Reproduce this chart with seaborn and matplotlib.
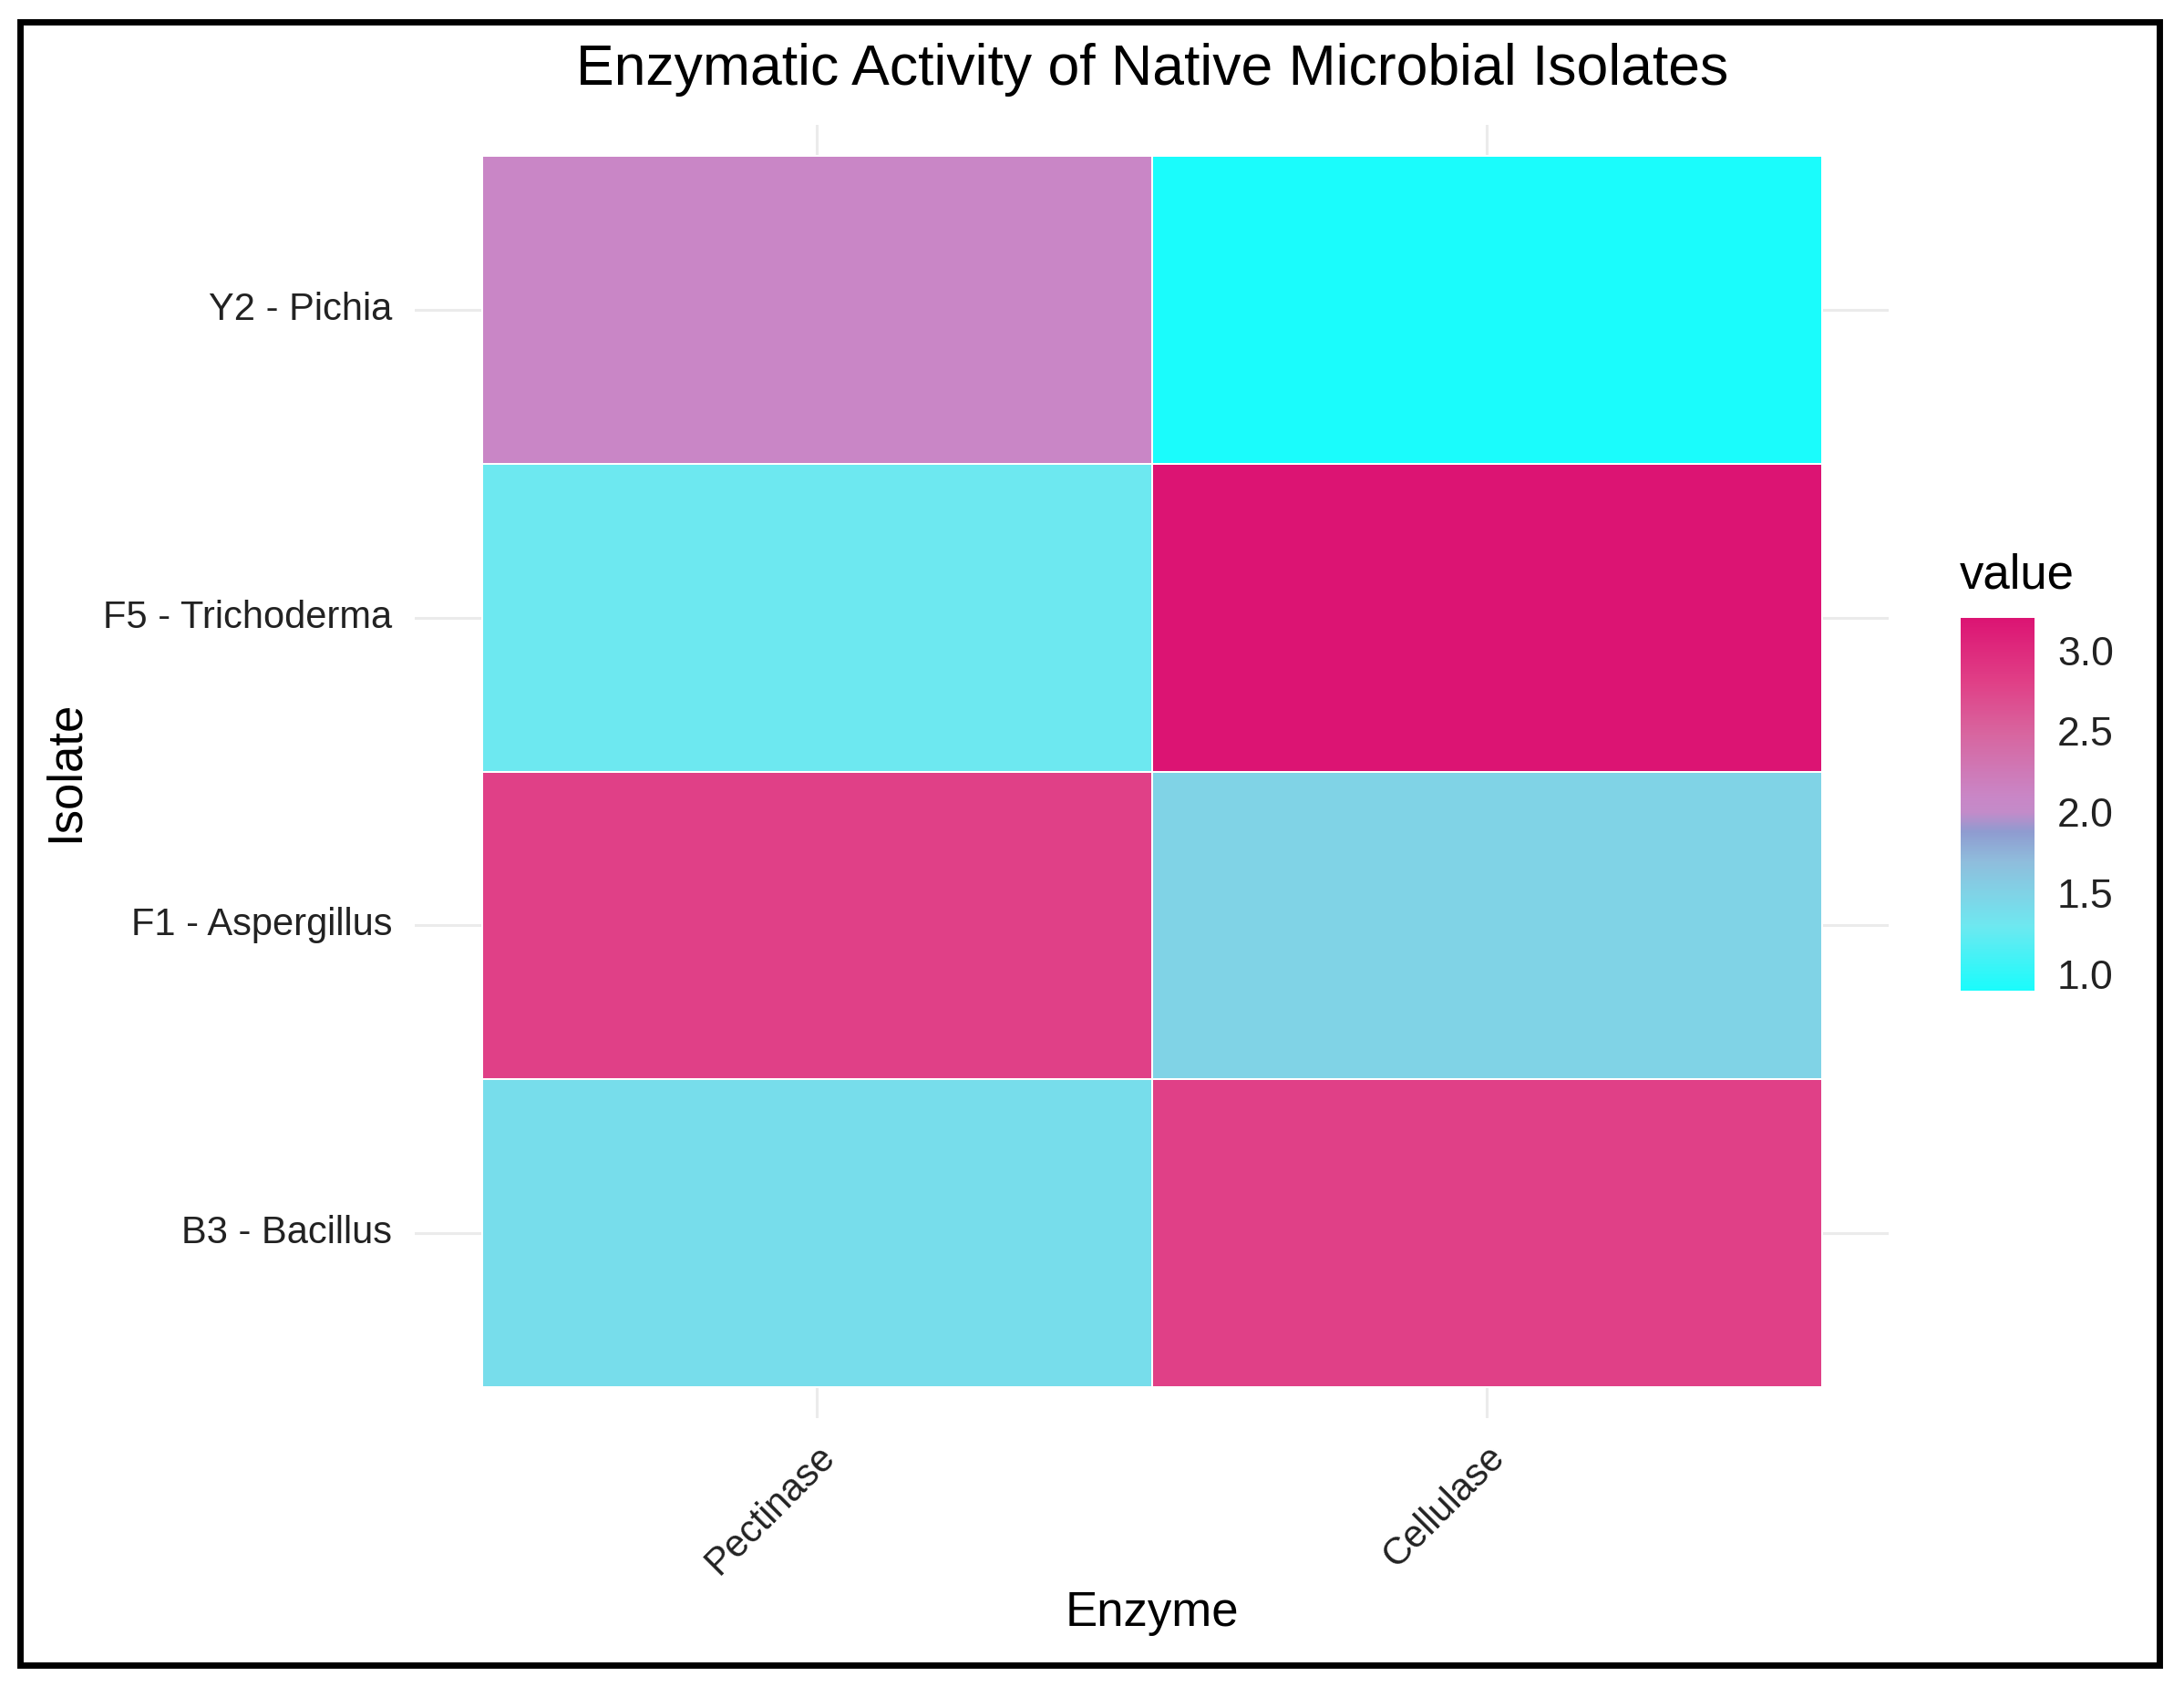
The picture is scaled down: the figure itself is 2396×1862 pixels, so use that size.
import numpy as np
import pandas as pd
import matplotlib
matplotlib.use("Agg")
import matplotlib.pyplot as plt
import seaborn as sns
from matplotlib.colors import LinearSegmentedColormap
from matplotlib.patches import Rectangle

# data
isolates = ["Y2 - Pichia", "F5 - Trichoderma", "F1 - Aspergillus", "B3 - Bacillus"]
enzymes = ["Pectinase", "Cellulase"]
pectinase = [2.1, 1.3, 2.8, 1.4]
cellulase = [0.9, 3.2, 1.5, 2.8]

df = pd.DataFrame({"Pectinase": pectinase, "Cellulase": cellulase}, index=isolates)[enzymes]

sns.set_theme(style="white")
plt.rcParams['font.family'] = ['Liberation Sans', 'DejaVu Sans']

# colour ramp sampled from the reference colourbar (value -> colour)
vmin, vmax = min(pectinase + cellulase), max(pectinase + cellulase)
ramp = [(0.9, "#1afcfc"), (1.3, "#6ee8f0"), (1.5, "#80d2e6"), (1.7, "#8fbcdc"),
        (1.88, "#8f9bd0"), (2.0, "#c38bc9"), (2.1, "#c986c6"), (2.5, "#d8649e"),
        (2.8, "#e04087"), (3.2, "#dc1473")]
cmap = LinearSegmentedColormap.from_list(
    "enz", [((v - vmin) / (vmax - vmin), c) for v, c in ramp])

W, H, DPI = 2396, 1862, 200
fig = plt.figure(figsize=(W / DPI, H / DPI), dpi=DPI)
ax = fig.add_axes([455 / W, 1 - 1556 / H, (2072 - 455) / W, (1556 - 137) / H])
cax = fig.add_axes([2151 / W, 1 - 1087 / H, 81 / W, 409 / H])

sns.heatmap(df, ax=ax, cbar_ax=cax, cmap=cmap, linewidths=0.7, linecolor="white")

ax.set_xlim(-0.1, 2.1)
ax.set_ylim(4.1, -0.1)
ax.set_axisbelow(True)
ax.grid(True, color="#EBEBEB", linewidth=1.1)
for s in ax.spines.values():
    s.set_visible(False)
ax.tick_params(length=0, labelsize=15, colors="#222222", pad=9)
ax.tick_params(axis="x", pad=8)
ax.set_xlabel("")
ax.set_ylabel("")
plt.setp(ax.get_yticklabels(), rotation=0)
plt.setp(ax.get_xticklabels(), rotation=45, ha="right", va="top", rotation_mode="anchor")

# colourbar styled like ggplot
cbar = ax.collections[0].colorbar
cbar.outline.set_visible(False)
cbar.set_ticks([1.0, 1.5, 2.0, 2.5, 3.0])
cbar.ax.yaxis.set_ticks_position("both")
cbar.ax.tick_params(direction="in", length=5.4, width=0.8, color="white",
                    labelsize=16, labelcolor="#222222", pad=9)
cbar.ax.set_yticklabels(["1.0", "1.5", "2.0", "2.5", "3.0"])

fig.text(2150 / W, 1 - 645 / H, "value", fontsize=19, ha="left", va="baseline", color="black")
fig.text(0.5274, 1 - 76 / H, "Enzymatic Activity of Native Microbial Isolates",
         fontsize=22.5, ha="center", va="center", color="black")
fig.text(0.5274, 1 - 1770 / H, "Enzyme", fontsize=19, ha="center", va="center", color="black")
fig.text(72 / W, 1 - 846 / H, "Isolate", fontsize=19, ha="center", va="center",
         rotation=90, color="black")

fig.patches.append(Rectangle((21.5 / W, 1 - 1826.5 / H), (2368.5 - 21.5) / W, (1826.5 - 24) / H,
                             transform=fig.transFigure, fill=False, edgecolor="black",
                             linewidth=2.5))

fig.savefig("out.png", dpi=DPI, facecolor="white")
